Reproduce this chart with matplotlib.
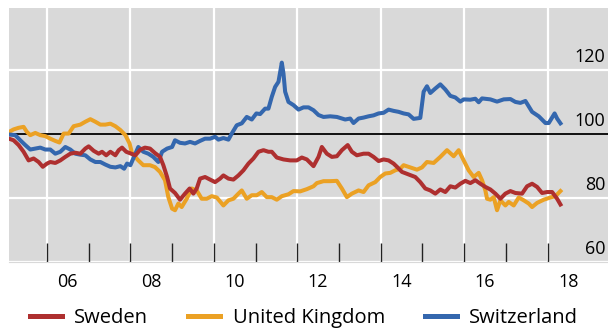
import matplotlib
matplotlib.use('Agg')
import matplotlib.pyplot as plt
from matplotlib.transforms import blended_transform_factory

plt.rcParams['font.family'] = ['Open Sans', 'DejaVu Sans']

# Sweden
SWE_T = [2005.09, 2005.20, 2005.32, 2005.44, 2005.56, 2005.68, 2005.80, 2005.90, 2006.00, 2006.08,
         2006.20, 2006.32, 2006.44, 2006.56, 2006.68, 2006.80, 2006.92, 2007.00, 2007.12, 2007.24,
         2007.32, 2007.42, 2007.52, 2007.64, 2007.72, 2007.80, 2007.90, 2008.00, 2008.12, 2008.24,
         2008.35, 2008.47, 2008.59, 2008.71, 2008.79, 2008.88, 2008.95, 2009.07, 2009.19, 2009.31,
         2009.42, 2009.51, 2009.59, 2009.67, 2009.79, 2009.91, 2010.03, 2010.15, 2010.23, 2010.35,
         2010.47, 2010.59, 2010.71, 2010.83, 2010.95, 2011.07, 2011.19, 2011.31, 2011.39, 2011.51,
         2011.67, 2011.83, 2011.99, 2012.11, 2012.23, 2012.39, 2012.51, 2012.59, 2012.71, 2012.83,
         2012.95, 2013.07, 2013.21, 2013.31, 2013.43, 2013.59, 2013.71, 2013.83, 2013.95, 2014.07,
         2014.19, 2014.31, 2014.39, 2014.51, 2014.67, 2014.83, 2014.95, 2015.07, 2015.19, 2015.31,
         2015.43, 2015.55, 2015.67, 2015.79, 2015.91, 2016.03, 2016.15, 2016.27, 2016.39, 2016.51,
         2016.63, 2016.75, 2016.87, 2016.99, 2017.11, 2017.23, 2017.39, 2017.51, 2017.63, 2017.75,
         2017.87, 2017.99, 2018.11, 2018.23, 2018.31]
SWE_V = [98.6, 98.1, 96.6, 94.5, 91.8, 92.4, 91.3, 89.8, 90.8, 91.3,
         91.0, 91.8, 92.9, 93.9, 94.2, 93.9, 95.5, 96.2, 94.8, 93.9,
         94.5, 93.4, 94.5, 93.4, 95.0, 95.8, 94.5, 94.0, 93.4, 95.2,
         95.8, 95.5, 94.1, 92.9, 90.3, 86.6, 83.0, 81.6, 79.5, 81.4,
         83.0, 81.4, 83.0, 86.1, 86.6, 85.8, 85.0, 86.1, 87.1, 86.1,
         85.8, 87.1, 88.7, 90.8, 92.4, 94.5, 95.0, 94.5, 94.5, 92.7,
         92.1, 91.8, 91.8, 92.7, 92.1, 90.0, 92.9, 96.0, 93.9, 92.9,
         93.1, 95.0, 96.6, 94.5, 93.4, 93.9, 93.9, 92.9, 91.6, 92.1,
         91.8, 90.8, 89.8, 88.2, 87.4, 86.6, 85.0, 83.0, 82.4, 81.4,
         82.7, 81.9, 83.7, 83.3, 84.5, 85.4, 84.7, 85.6, 84.5, 83.5,
         82.7, 81.4, 79.8, 81.4, 82.2, 81.6, 81.4, 83.7, 84.5, 83.5,
         81.6, 81.9, 81.9, 79.8, 78.0]

# United Kingdom
UK_T = [2005.09, 2005.20, 2005.32, 2005.44, 2005.52, 2005.60, 2005.72, 2005.84, 2005.96, 2006.08,
        2006.20, 2006.30, 2006.40, 2006.52, 2006.64, 2006.80, 2006.92, 2007.04, 2007.16, 2007.28,
        2007.40, 2007.52, 2007.64, 2007.76, 2007.88, 2007.98, 2008.04, 2008.19, 2008.31, 2008.47,
        2008.59, 2008.71, 2008.83, 2008.91, 2009.00, 2009.07, 2009.15, 2009.23, 2009.35, 2009.47,
        2009.59, 2009.71, 2009.83, 2009.95, 2010.07, 2010.23, 2010.35, 2010.47, 2010.59, 2010.67,
        2010.79, 2010.91, 2011.03, 2011.15, 2011.27, 2011.39, 2011.51, 2011.63, 2011.79, 2011.91,
        2012.07, 2012.23, 2012.39, 2012.47, 2012.63, 2012.79, 2012.95, 2013.07, 2013.19, 2013.31,
        2013.47, 2013.59, 2013.71, 2013.87, 2013.99, 2014.11, 2014.23, 2014.35, 2014.47, 2014.55,
        2014.71, 2014.87, 2014.99, 2015.11, 2015.27, 2015.43, 2015.59, 2015.75, 2015.87, 2015.99,
        2016.11, 2016.23, 2016.35, 2016.43, 2016.51, 2016.55, 2016.63, 2016.71, 2016.79, 2016.87,
        2016.99, 2017.07, 2017.19, 2017.31, 2017.43, 2017.55, 2017.63, 2017.75, 2017.91, 2018.07,
        2018.19, 2018.31]
UK_V = [100.7, 101.5, 102.0, 102.3, 100.7, 99.7, 100.4, 99.7, 99.4, 98.6,
        97.9, 97.4, 100.2, 100.2, 102.5, 103.0, 103.9, 104.7, 103.9, 103.0,
        103.0, 103.3, 102.5, 101.3, 99.7, 97.1, 94.0, 91.8, 90.3, 90.3,
        89.7, 88.2, 85.6, 80.3, 76.7, 76.2, 78.3, 77.2, 79.8, 83.0,
        82.4, 79.8, 79.8, 80.6, 80.2, 77.7, 79.3, 79.8, 81.4, 82.4,
        79.8, 80.9, 80.9, 81.9, 80.3, 80.3, 79.5, 80.6, 81.2, 82.2,
        82.1, 82.8, 83.7, 84.7, 85.3, 85.3, 85.4, 83.0, 80.3, 81.4,
        82.4, 81.9, 84.0, 85.0, 86.6, 87.7, 87.9, 88.7, 89.2, 90.3,
        89.6, 88.9, 89.6, 91.3, 91.0, 92.9, 95.0, 93.1, 95.0, 91.8,
        88.7, 86.6, 87.9, 85.6, 82.4, 79.8, 79.5, 80.3, 76.2, 79.3,
        77.7, 78.8, 77.7, 80.2, 79.3, 78.3, 77.2, 78.5, 79.5, 80.2,
        80.6, 82.2]

# Switzerland
CH_T = [2005.09, 2005.24, 2005.36, 2005.48, 2005.60, 2005.72, 2005.84, 2005.96, 2006.08, 2006.20,
        2006.32, 2006.44, 2006.56, 2006.68, 2006.80, 2006.92, 2007.04, 2007.16, 2007.28, 2007.40,
        2007.52, 2007.64, 2007.76, 2007.85, 2007.92, 2008.00, 2008.07, 2008.19, 2008.31, 2008.43,
        2008.55, 2008.67, 2008.76, 2008.88, 2009.00, 2009.07, 2009.19, 2009.31, 2009.43, 2009.55,
        2009.67, 2009.79, 2009.91, 2010.03, 2010.11, 2010.23, 2010.35, 2010.43, 2010.55, 2010.67,
        2010.79, 2010.91, 2011.02, 2011.11, 2011.23, 2011.31, 2011.39, 2011.47, 2011.55, 2011.63,
        2011.67, 2011.71, 2011.79, 2011.91, 2012.03, 2012.15, 2012.27, 2012.39, 2012.51, 2012.63,
        2012.79, 2012.95, 2013.15, 2013.27, 2013.35, 2013.47, 2013.59, 2013.71, 2013.83, 2013.95,
        2014.07, 2014.19, 2014.31, 2014.43, 2014.55, 2014.67, 2014.79, 2014.95, 2015.03, 2015.11,
        2015.19, 2015.31, 2015.43, 2015.55, 2015.67, 2015.79, 2015.91, 2015.99, 2016.15, 2016.27,
        2016.35, 2016.43, 2016.63, 2016.79, 2016.95, 2017.11, 2017.23, 2017.35, 2017.47, 2017.63,
        2017.79, 2017.95, 2018.03, 2018.17, 2018.23, 2018.31]
CH_V = [99.9, 99.7, 98.1, 96.6, 95.2, 95.5, 95.8, 95.2, 95.2, 93.9,
        94.5, 96.0, 95.2, 93.9, 93.6, 93.4, 92.1, 91.3, 91.3, 90.5,
        89.8, 89.6, 90.0, 89.2, 90.8, 90.3, 92.4, 96.0, 94.5, 93.9,
        92.9, 91.3, 94.5, 95.5, 96.0, 98.1, 97.3, 97.1, 97.6, 97.1,
        97.9, 98.6, 98.6, 99.2, 98.3, 98.8, 98.3, 100.2, 102.8, 103.4,
        105.4, 104.6, 106.5, 106.3, 108.0, 108.0, 111.7, 114.8, 116.4, 122.4,
        119.0, 113.3, 110.1, 109.1, 107.7, 108.4, 108.4, 107.5, 106.0, 105.4,
        105.6, 105.4, 104.6, 104.9, 103.5, 104.9, 105.2, 105.6, 105.9, 106.5,
        106.7, 107.7, 107.3, 107.0, 106.5, 106.2, 104.8, 105.1, 113.3, 115.0,
        112.9, 114.3, 115.6, 114.0, 112.0, 111.5, 110.2, 110.9, 110.8, 111.1,
        110.0, 111.2, 110.9, 110.2, 110.9, 111.0, 110.1, 109.8, 110.4, 107.0,
        105.6, 103.5, 103.5, 106.5, 104.9, 103.4]

YEAR_TICKS = list(range(2006, 2019))
LABEL_YEARS = [2006.5, 2008.5, 2010.5, 2012.5, 2014.5, 2016.5, 2018.5]
LABELS = ['06', '08', '10', '12', '14', '16', '18']
Y_LABELS = [60, 80, 100, 120]

RED = '#AE2F2F'
ORANGE = '#EBA124'
BLUE = '#3467AE'


def main():
    fig = plt.figure(figsize=(6.08, 3.32), dpi=100)
    ax = fig.add_axes([9 / 608, 1 - 262 / 332, 599 / 608, 254 / 332])
    ax.set_facecolor('#D9D9D9')

    for yr in range(2006, 2019, 2):
        ax.axvline(yr, color='white', lw=1.6, zorder=1)
    for v in (60, 80, 120):
        ax.axhline(v, color='white', lw=1.6, zorder=1)
    ax.axhline(100, color='black', lw=1.3, zorder=2)

    ax.plot(SWE_T, SWE_V, color=RED, lw=2.9, label='Sweden', zorder=4, solid_joinstyle='round')
    ax.plot(UK_T, UK_V, color=ORANGE, lw=2.9, label='United Kingdom', zorder=3, solid_joinstyle='round')
    ax.plot(CH_T, CH_V, color=BLUE, lw=2.9, label='Switzerland', zorder=3, solid_joinstyle='round')

    ax.set_xlim(2005.09, 2019.45)
    ax.set_ylim(60, 139.5)

    ax.set_xticks(YEAR_TICKS)
    ax.set_xticklabels([])
    ax.tick_params(axis='x', which='major', direction='in', length=14, width=1, color='#222222')
    ax.set_xticks(LABEL_YEARS, minor=True)
    ax.set_xticklabels(LABELS, minor=True, fontsize=13)
    ax.tick_params(axis='x', which='minor', length=0, pad=8)
    ax.set_yticks([])

    for s in ('top', 'left', 'right'):
        ax.spines[s].set_visible(False)
    ax.spines['bottom'].set_color('#D9D9D9')

    tr = blended_transform_factory(ax.transAxes, ax.transData)
    for v in Y_LABELS:
        ax.text(0.995, v + 1.2, str(v), transform=tr, ha='right', va='bottom', fontsize=13, zorder=5)

    fig.legend(loc='center', bbox_to_anchor=(0.5, 1 - 318 / 332), ncol=3, frameon=False,
               fontsize=14.5, handlelength=1.6, handletextpad=0.6, columnspacing=2.0,
               borderaxespad=0)
    for line in fig.legends[0].get_lines():
        line.set_linewidth(3.6)

    fig.savefig('out.png', dpi=100)


if __name__ == '__main__':
    main()
